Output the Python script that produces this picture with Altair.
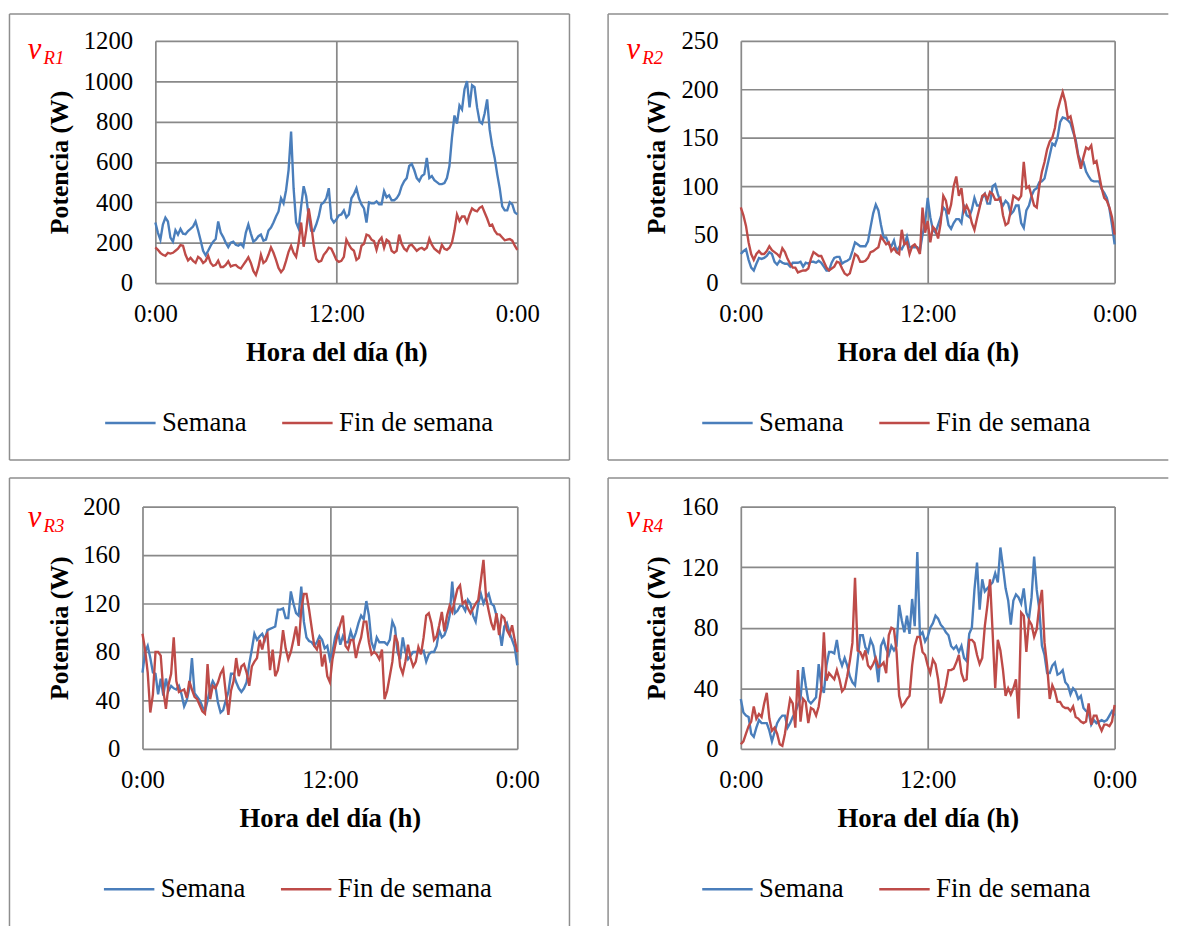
import altair as alt
import pandas as pd

# ---------------- data (10-minute resolution, 0:00 .. 24:00) ----------------
HORAS = [i / 6 for i in range(145)]
SERIES = ["Semana", "Fin de semana"]
COLORES = ["#4A7EBB", "#BE4B48"]

r1_semana = [
    300, 250, 215, 290, 324, 305, 225, 205, 262, 240, 268, 245,
    242, 258, 268, 280, 305, 262, 212, 160, 138, 160, 185, 205,
    218, 305, 250, 228, 200, 178, 200, 205, 190, 185, 195, 180,
    250, 290, 245, 205, 215, 232, 240, 210, 215, 260, 275, 300,
    330, 355, 420, 395, 460, 560, 750, 470, 300, 270, 380, 480,
    430, 330, 260, 258, 290, 330, 390, 400, 420, 470, 320, 300,
    315, 335, 340, 360, 325, 340, 420, 440, 470, 420, 390, 370,
    300, 400, 395, 395, 405, 390, 390, 455, 425, 435, 410, 410,
    420, 440, 480, 505, 520, 580, 590, 560, 520, 505, 530, 540,
    620, 520, 530, 510, 500, 490, 490, 495, 520, 580, 720, 830,
    790, 880, 860, 960, 1000, 870, 980, 970, 870, 800, 790, 840,
    910, 760, 680, 620, 540, 470, 380, 360, 360, 400, 390, 350,
    340]
r1_finde = [
    177, 165, 150, 140, 135, 150, 146, 150, 160, 170, 188, 185,
    140, 112, 125, 110, 100, 130, 120, 100, 110, 136, 100, 85,
    90, 111, 80, 80, 90, 108, 82, 88, 90, 78, 72, 90,
    108, 128, 100, 60, 40, 80, 140, 100, 110, 140, 177, 150,
    115, 75, 54, 70, 110, 155, 185, 150, 130, 200, 300, 180,
    260, 370, 290, 190, 120, 105, 110, 140, 155, 175, 170, 144,
    115, 105, 110, 130, 215, 190, 170, 160, 115, 125, 185, 195,
    240, 235, 215, 208, 165, 210, 225, 175, 215, 205, 160, 150,
    160, 240, 195, 170, 160, 185, 190, 175, 160, 170, 175, 165,
    175, 220, 190, 170, 160, 150, 190, 170, 165, 175, 200, 260,
    340, 308, 330, 330, 300, 340, 370, 360, 355, 373, 380, 350,
    320, 285, 290, 260, 242, 240, 226, 212, 215, 218, 210, 185,
    165]
r2_semana = [
    30, 33, 35, 24, 16, 13, 20, 26, 25, 26, 28, 32,
    30, 22, 19, 23, 21, 20, 20, 17, 21, 21, 21, 22,
    17, 21, 20, 22, 22, 21, 23, 21, 17, 13, 13, 21,
    26, 27, 27, 20, 22, 23, 25, 33, 42, 40, 38, 38,
    38, 43, 58, 72, 81, 75, 60, 47, 47, 40, 38, 44,
    33, 37, 35, 40, 48, 37, 37, 37, 37, 33, 50, 62,
    88, 68, 55, 52, 60, 68, 78, 75, 60, 56, 62, 66,
    66, 62, 81, 70, 68, 76, 88, 80, 80, 88, 92, 82,
    82, 100, 102, 92, 84, 80, 85, 82, 71, 74, 80, 80,
    62, 57, 75, 80, 90, 96, 98, 104, 105, 108, 120, 132,
    144, 142, 150, 166, 171, 170, 168, 165, 156, 148, 132, 125,
    125, 115, 110, 106, 105, 105, 105, 97, 93, 88, 77, 60,
    40]
r2_finde = [
    78, 70, 59, 42, 30, 24, 30, 33, 30, 30, 33, 38,
    34, 32, 30, 27, 36, 32, 25, 20, 16, 16, 11, 12,
    13, 13, 15, 25, 32, 30, 28, 28, 22, 16, 13, 15,
    17, 22, 21, 15, 10, 8, 10, 20, 30, 28, 22, 22,
    23, 26, 32, 33, 35, 37, 48, 44, 40, 42, 33, 36,
    32, 30, 55, 40, 42, 30, 38, 40, 36, 30, 78, 52,
    64, 42, 58, 55, 46, 62, 90, 85, 71, 81, 100, 110,
    90, 98, 74, 80, 74, 62, 55, 67, 78, 90, 92, 86,
    94, 92, 86, 86, 88, 70, 60, 62, 75, 90, 88, 86,
    90, 125, 98, 100, 90, 80, 78, 100, 115, 125, 138, 146,
    150, 160, 178, 188, 197, 187, 170, 172, 160, 145, 130, 118,
    130, 140, 138, 142, 124, 126, 112, 98, 88, 85, 78, 68,
    50]
r3_semana = [
    63, 80, 85, 75, 63, 62, 45, 58, 44, 58, 48, 52,
    50, 49, 52, 45, 35, 40, 50, 75, 46, 43, 40, 35,
    31, 40, 50, 56, 52, 38, 30, 32, 40, 47, 62, 62,
    55, 50, 47, 50, 55, 70, 82, 95, 90, 93, 95, 90,
    98, 99, 100, 101, 115, 115, 116, 108, 108, 130, 120, 112,
    110, 134, 105, 92, 89, 88, 85, 88, 93, 90, 83, 85,
    74, 80, 92, 98, 86, 93, 88, 88, 97, 90, 96, 104,
    110, 107, 122, 110, 88, 82, 92, 88, 88, 88, 86, 90,
    105, 100, 80, 74, 92, 80, 74, 77, 80, 80, 80, 80,
    81, 72, 78, 80, 80, 85, 98, 92, 94, 100, 110, 138,
    112, 114, 118, 118, 114, 123, 120, 110, 105, 120, 128, 120,
    125, 128, 120, 118, 110, 100, 85, 101, 104, 96, 90, 84,
    69]
r3_finde = [
    95, 82, 63, 30, 45, 80, 80, 77, 48, 33, 53, 62,
    92, 56, 47, 48, 49, 42, 56, 49, 43, 41, 36, 31,
    29, 70, 41, 52, 50, 55, 62, 66, 46, 28, 48, 56,
    75, 60, 68, 70, 63, 52, 68, 72, 75, 90, 82, 92,
    95, 65, 82, 60, 65, 78, 98, 83, 74, 80, 90, 101,
    85, 115, 128, 128, 115, 100, 85, 82, 90, 68, 78, 60,
    55, 74, 85, 95, 103, 110, 85, 82, 90, 90, 75, 85,
    92, 105, 105, 88, 78, 80, 78, 74, 82, 41, 48, 60,
    72, 94, 88, 68, 62, 72, 86, 75, 68, 72, 84, 78,
    92, 110, 112, 104, 90, 93, 102, 113, 97, 110, 118, 113,
    123, 132, 135, 120, 122, 116, 112, 116, 120, 123, 139, 156,
    125, 114, 104, 98, 112, 94, 110, 108, 98, 94, 102, 90,
    80]
r4_semana = [
    33, 24, 22, 21, 10, 8, 14, 19, 17, 17, 17, 12,
    5, 11, 17, 20, 22, 22, 14, 17, 21, 24, 29, 33,
    54, 42, 32, 30, 32, 34, 56, 42, 37, 55, 64, 64,
    63, 72, 60, 55, 60, 55, 48, 44, 42, 58, 75, 75,
    67, 64, 72, 68, 58, 44, 68, 72, 66, 62, 68, 65,
    68, 95, 85, 77, 88, 76, 99, 81, 130, 75, 77, 71,
    74, 80, 83, 88, 86, 82, 80, 77, 75, 68, 66, 68,
    64, 68, 60, 58, 76, 80, 105, 123, 92, 112, 104, 106,
    108, 110, 116, 110, 133, 120, 106, 98, 82, 98, 102, 100,
    96, 106, 90, 86, 100, 127, 105, 92, 68, 62, 50, 50,
    55, 57, 49, 50, 52, 44, 42, 36, 40, 38, 33, 35,
    27, 25, 24, 16, 19, 17, 18, 19, 18, 19, 22, 25,
    22]
r4_finde = [
    3, 5, 10, 15, 18, 28, 20, 23, 21, 30, 37, 20,
    12, 14, 10, 3, 2, 10, 22, 33, 30, 14, 52, 18,
    33, 31, 17, 27, 26, 22, 28, 40, 77, 45, 50, 48,
    46, 52, 46, 38, 40, 48, 58, 70, 113, 65, 64, 60,
    65, 55, 53, 56, 60, 54, 55, 57, 50, 75, 80, 79,
    64, 35, 28, 30, 33, 35, 55, 68, 74, 74, 64, 62,
    55, 50, 59, 56, 46, 30, 35, 42, 52, 52, 53, 57,
    62, 50, 45, 46, 72, 72, 70, 62, 56, 60, 81, 95,
    112, 77, 40, 72, 65, 52, 35, 40, 36, 40, 46, 20,
    90, 88, 64, 85, 82, 74, 79, 95, 105, 70, 55, 33,
    42, 38, 31, 31, 28, 27, 27, 25, 28, 21, 20, 18,
    17, 18, 30, 16, 22, 22, 16, 12, 16, 16, 15, 18,
    29]

Y_MAX = [1200, 250, 200, 160]
Y_TICKS = [
    [0, 200, 400, 600, 800, 1000, 1200],
    [0, 50, 100, 150, 200, 250],
    [0, 40, 80, 120, 160, 200],
    [0, 40, 80, 120, 160],
]
X_TICKS = [0, 12, 24]
SUBINDICES = ["R1", "R2", "R3", "R4"]

# ---------------- styling ----------------
FONT = "Liberation Serif"
GRID = "#898989"
BORDE = "#8E8E8E"
uno = pd.DataFrame({"k": [0]})


def rule(x1, x2, y1, y2):
    return alt.Chart(uno).mark_rule(color=BORDE, strokeWidth=1.5).encode(
        x=alt.value(x1), x2=alt.value(x2), y=alt.value(y1), y2=alt.value(y2)
    )


def panel(sem, fin, idx, w, h, inset, box, edges, title_x, leg_x, leg_y, v_y):
    df = pd.DataFrame({
        "hora": HORAS + HORAS,
        "potencia": sem + fin,
        "serie": [SERIES[0]] * len(HORAS) + [SERIES[1]] * len(HORAS),
    })
    left, right, top, bottom = box
    color = alt.Color(
        "serie:N",
        scale=alt.Scale(domain=SERIES, range=COLORES),
        legend=alt.Legend(
            orient="none", legendX=leg_x, legendY=leg_y, direction="horizontal",
            title=None, symbolType="stroke", symbolSize=2601, symbolStrokeWidth=2.5,
            labelFont=FONT, labelFontSize=27, labelColor="black", labelLimit=400,
            columnPadding=30, labelOffset=5, padding=0,
        ),
    )
    xscale = alt.Scale(domain=[0, 24], nice=False)
    if inset:
        xscale = alt.Scale(domain=[0, 24], nice=False, range=[inset, w])
    x = alt.X(
        "hora:Q",
        scale=xscale,
        axis=alt.Axis(
            values=X_TICKS, labelExpr="datum.value == 12 ? '12:00' : '0:00'",
            title="Hora del día (h)", grid=True, gridColor=GRID, gridWidth=1.75,
            domain=False, ticks=False, tickSize=0, labelFlush=False, labelOverlap=False,
            labelPadding=39, labelBaseline="alphabetic", labelFont=FONT, labelFontSize=25,
            labelColor="black", titleFont=FONT, titleFontSize=27, titleFontWeight="bold",
            titleColor="black", titleY=78, titleBaseline="alphabetic",
        ),
    )
    yaxis_kw = dict(
        values=Y_TICKS[idx], format="d", title="Potencia (W)", grid=True,
        gridColor=GRID, gridWidth=1.75, domain=False, ticks=False, tickSize=0,
        labelPadding=23, labelFont=FONT, labelFontSize=25, labelColor="black",
        labelOverlap=False, titleFont=FONT, titleFontSize=26, titleFontWeight="bold",
        titleColor="black", titleAngle=270, titleX=title_x, titleY=h / 2,
        titleBaseline="middle", titleAlign="center",
    )
    if inset:
        yaxis_kw["offset"] = -inset
    y = alt.Y(
        "potencia:Q",
        scale=alt.Scale(domain=[0, Y_MAX[idx]], nice=False),
        axis=alt.Axis(**yaxis_kw),
    )
    base = alt.Chart(df).mark_line(strokeWidth=2.4)
    l_sem = base.transform_filter(alt.datum.serie == SERIES[0]).encode(x=x, y=y, color=color)
    l_fin = base.transform_filter(alt.datum.serie == SERIES[1]).encode(x=x, y=y, color=color)

    borders = [rule(left, right, top, top), rule(left, left, top, bottom)]
    if "right" in edges:
        borders.append(rule(right, right, top, bottom))
    if "bottom" in edges:
        borders.append(rule(left, right, bottom, bottom))

    vx = left + 18.5
    v_text = alt.Chart(uno).mark_text(
        text="v", font=FONT, fontStyle="italic", fontSize=31, color="#FF0000",
        align="left", baseline="alphabetic",
    ).encode(x=alt.value(vx), y=alt.value(v_y))
    sub_text = alt.Chart(uno).mark_text(
        text=SUBINDICES[idx], font=FONT, fontStyle="italic", fontSize=19, color="#FF0000",
        align="left", baseline="alphabetic",
    ).encode(x=alt.value(vx + 16), y=alt.value(v_y + 5))

    return alt.layer(*borders, v_text, sub_text, l_sem, l_fin).properties(width=w, height=h)


# left column panels share the same outer geometry (panel 1's plot is inset by 13 px)
p1 = panel(r1_semana, r1_finde, 0, 379, 245, 13, (-134.5, 431.75, -27, 424),
           ("right", "bottom"), -97.25, -39.25, 359.5, 18)
p2 = panel(r2_semana, r2_finde, 1, 378, 245, 0, (-134.2, 432.3, -27, 424),
           ("bottom",), -84.7, -40.5, 359.5, 18)
p3 = panel(r3_semana, r3_finde, 2, 379, 245, 0, (-134.5, 431.75, -29, 424),
           ("right",), -84.25, -40.5, 360, 20.5)
p4 = panel(r4_semana, r4_finde, 3, 378, 245, 0, (-134.2, 432.3, -29, 424),
           (), -84.7, -40.5, 360, 20.5)

row1 = alt.hconcat(p1, p2, spacing=37).resolve_scale(
    color="independent", x="independent", y="independent").resolve_legend(color="independent")
row2 = alt.hconcat(p3, p4, spacing=37).resolve_scale(
    color="independent", x="independent", y="independent").resolve_legend(color="independent")

chart = alt.vconcat(row1, row2, spacing=16).resolve_scale(
    color="independent", x="independent", y="independent"
).resolve_legend(color="independent").properties(
    padding=0, background="white"
).configure_view(stroke="transparent", strokeWidth=0)

chart.save("out.html", embed_options={"renderer": "svg", "actions": False})
